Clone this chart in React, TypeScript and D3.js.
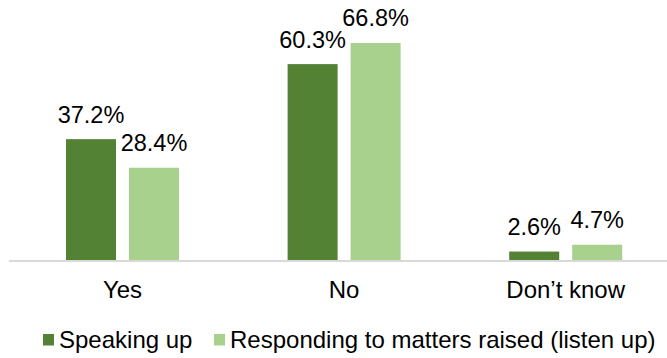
import React from "react";
import * as d3 from "d3";

const categories = ["Yes", "No", "Don\u2019t know"];
const seriesNames = ["Speaking up", "Responding to matters raised (listen up)"];
const speakingUp = [37.2, 60.3, 2.6];
const listenUp = [28.4, 66.8, 4.7];
const seriesColors = ["#548235", "#A9D18E"];

const W = 667;
const H = 358;
const FONT = "'Liberation Sans', Arial, sans-serif";

export default function App() {
  const values = [speakingUp, listenUp];
  const x0 = d3.scaleBand<string>().domain(categories).range([11.7, 676.5]).paddingInner(0).paddingOuter(0);
  const groupW = 113;
  const x1 = d3.scaleBand<string>().domain(seriesNames).range([0, groupW]).paddingInner(0.206).paddingOuter(0);
  const groupOffset = (x0.bandwidth() - groupW) / 2;
  const y = d3.scaleLinear().domain([0, 70]).range([260, 32.6]);

  return (
    <svg width={W} height={H} style={{ position: "absolute", left: 0, top: 0, background: "#fff" }}>
      <rect x={0} y={0} width={W} height={H} fill="#fff" />
      {categories.map((c, ci) => (
        <g key={c}>
          {seriesNames.map((s, si) => {
            const v = values[si][ci];
            const bx = (x0(c) as number) + groupOffset + (x1(s) as number);
            const by = y(v);
            return (
              <g key={s}>
                <rect x={bx} y={by} width={x1.bandwidth()} height={y(0) - by} fill={seriesColors[si]} />
                <text
                  x={bx + x1.bandwidth() / 2}
                  y={by - 16.5}
                  textAnchor="middle"
                  fontFamily={FONT}
                  fontSize={23.5}
                  fill="#000"
                >
                  {v.toFixed(1)}%
                </text>
              </g>
            );
          })}
          <text
            x={(x0(c) as number) + x0.bandwidth() / 2}
            y={298}
            textAnchor="middle"
            fontFamily={FONT}
            fontSize={24}
            fill="#000"
          >
            {c}
          </text>
        </g>
      ))}
      <line x1={9} x2={W} y1={261} y2={261} stroke="#d9d9d9" strokeWidth={2} />
      {/* legend */}
      <g>
        <rect x={43} y={334} width={11} height={11.5} fill={seriesColors[0]} />
        <text x={59} y={347.5} fontFamily={FONT} fontSize={24} fill="#000">
          {seriesNames[0]}
        </text>
        <rect x={214} y={334} width={11} height={11.5} fill={seriesColors[1]} />
        <text x={230} y={347.5} fontFamily={FONT} fontSize={24} fill="#000">
          {seriesNames[1]}
        </text>
      </g>
    </svg>
  );
}
